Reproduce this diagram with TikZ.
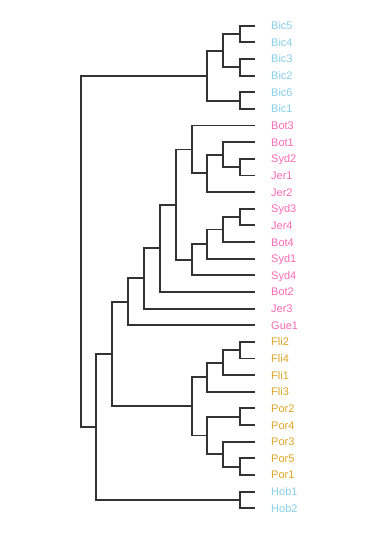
\documentclass[tikz,border=0pt]{standalone}
\usepackage{fontspec}
\setmainfont{Liberation Sans}
\definecolor{cblue}{HTML}{87CEEB}
\definecolor{cpink}{HTML}{FF69B4}
\definecolor{corange}{HTML}{DFA526}
\definecolor{cline}{HTML}{333333}
\begin{document}
\begin{tikzpicture}[
  lab/.style={anchor=base west,inner sep=0pt,font=\fontsize{11}{13}\selectfont,yshift=-4pt},
  edge/.style={draw=cline,line width=1.9pt,line join=miter}
]
\useasboundingbox (0pt,0pt) rectangle (379pt,-538pt);
\begin{scope}[x=1pt,y=-16.64pt,shift={(0pt,-25.7pt)}]
% leaves: end of leaf line and label
\foreach \n/\i/\c in {Bic5/0/cblue,Bic4/1/cblue,Bic3/2/cblue,Bic2/3/cblue,Bic6/4/cblue,Bic1/5/cblue,
  Bot3/6/cpink,Bot1/7/cpink,Syd2/8/cpink,Jer1/9/cpink,Jer2/10/cpink,Syd3/11/cpink,Jer4/12/cpink,
  Bot4/13/cpink,Syd1/14/cpink,Syd4/15/cpink,Bot2/16/cpink,Jer3/17/cpink,Gue1/18/cpink,
  Fli2/19/corange,Fli4/20/corange,Fli1/21/corange,Fli3/22/corange,Por2/23/corange,Por4/24/corange,
  Por3/25/corange,Por5/26/corange,Por1/27/corange,Hob1/28/cblue,Hob2/29/cblue}{
  \coordinate (e\n) at (255,\i);
  \node[lab,text=\c] (\n) at (271,\i) {\n};
}
% internal nodes
\coordinate (b54) at (240,0.5);
\coordinate (b32) at (240,2.5);
\coordinate (b61) at (240,4.5);
\coordinate (bA) at (223.3,1.5);
\coordinate (bic) at (207.3,3);
\coordinate (s2j1) at (240,8.5);
\coordinate (bo1) at (223.3,7.75);
\coordinate (j2) at (207.3,8.875);
\coordinate (bo3) at (191.7,7.4375);
\coordinate (s3j4) at (240,11.5);
\coordinate (bo4) at (223.3,12.25);
\coordinate (sy1) at (207.3,13.125);
\coordinate (sy4) at (191.7,14.0625);
\coordinate (p5) at (175.7,10.75);
\coordinate (p6) at (160,13.375);
\coordinate (p7) at (144,15.1875);
\coordinate (p8) at (128.3,16.59375);
\coordinate (f24) at (240,19.5);
\coordinate (f1) at (223.3,20.25);
\coordinate (f3) at (207.3,21.125);
\coordinate (p24) at (240,23.5);
\coordinate (p51) at (240,26.5);
\coordinate (p3) at (223.3,25.75);
\coordinate (por) at (207.3,24.625);
\coordinate (fp) at (191.7,22.875);
\coordinate (p9) at (112.3,19.734);
\coordinate (h12) at (240,28.5);
\coordinate (p10) at (96,24.117);
\coordinate (root) at (80.7,13.559);
% connectors
\path[edge] (eBic5) -| (b54) |- (eBic4);
\path[edge] (eBic3) -| (b32) |- (eBic2);
\path[edge] (eBic6) -| (b61) |- (eBic1);
\path[edge] (b54) -| (bA) |- (b32);
\path[edge] (bA) -| (bic) |- (b61);
\path[edge] (eSyd2) -| (s2j1) |- (eJer1);
\path[edge] (eBot1) -| (bo1) |- (s2j1);
\path[edge] (bo1) -| (j2) |- (eJer2);
\path[edge] (eBot3) -| (bo3) |- (j2);
\path[edge] (eSyd3) -| (s3j4) |- (eJer4);
\path[edge] (s3j4) -| (bo4) |- (eBot4);
\path[edge] (bo4) -| (sy1) |- (eSyd1);
\path[edge] (sy1) -| (sy4) |- (eSyd4);
\path[edge] (bo3) -| (p5) |- (sy4);
\path[edge] (p5) -| (p6) |- (eBot2);
\path[edge] (p6) -| (p7) |- (eJer3);
\path[edge] (p7) -| (p8) |- (eGue1);
\path[edge] (eFli2) -| (f24) |- (eFli4);
\path[edge] (f24) -| (f1) |- (eFli1);
\path[edge] (f1) -| (f3) |- (eFli3);
\path[edge] (ePor2) -| (p24) |- (ePor4);
\path[edge] (ePor5) -| (p51) |- (ePor1);
\path[edge] (ePor3) -| (p3) |- (p51);
\path[edge] (p24) -| (por) |- (p3);
\path[edge] (f3) -| (fp) |- (por);
\path[edge] (p8) -| (p9) |- (fp);
\path[edge] (eHob1) -| (h12) |- (eHob2);
\path[edge] (p9) -| (p10) |- (h12);
\path[edge] (bic) -| (root) |- (p10);
\end{scope}
\end{tikzpicture}
\end{document}
